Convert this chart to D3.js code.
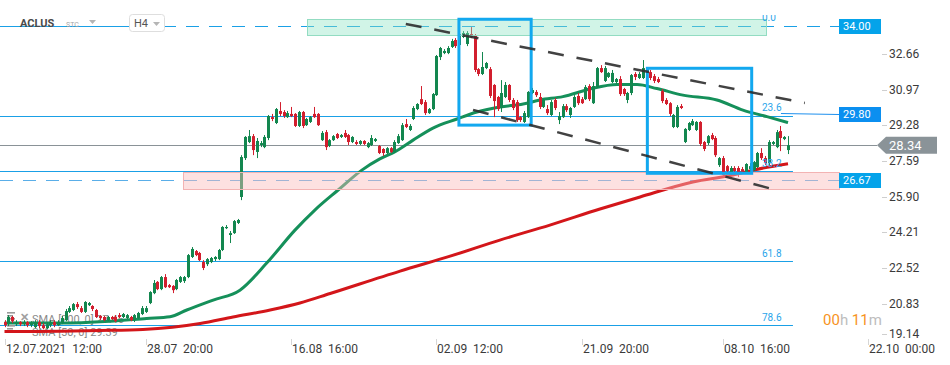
<!DOCTYPE html>
<html><head><meta charset="utf-8">
<script src="https://cdn.jsdelivr.net/npm/d3@7"></script>
<style>
html,body{margin:0;padding:0;background:#fff;}
svg{display:block;}
text{font-family:Roboto,"Noto Sans",sans-serif;}
</style></head><body>
<svg id="c" width="950" height="365"></svg>
<script>
// ---------- DATA ----------
const symbol = "ACLUS", market = "STC", interval = "H4";
const open=[19.97,19.87,20.21,19.87,19.97,19.87,19.97,19.82,19.73,19.97,
19.82,19.68,19.82,19.97,19.82,19.92,20.06,20.45,20.54,20.82,
20.63,20.45,20.77,20.73,20.54,20.26,20.21,20.06,20.21,20.21,
20.30,20.21,20.16,20.21,20.06,20.16,20.35,20.45,20.87,21.34,
21.87,21.53,22.10,21.72,21.68,21.53,21.87,21.91,22.10,23.05,
23.33,23.24,22.81,22.71,22.81,22.95,22.95,23.38,24.42,24.09,
24.18,24.66,25.89,27.73,28.49,28.77,28.02,28.35,28.25,28.68,
29.67,29.39,29.96,29.91,29.67,29.82,29.82,29.25,29.91,29.29,
29.44,29.82,29.82,28.58,28.96,28.30,28.58,28.87,28.73,28.92,
28.82,28.49,28.49,28.40,28.54,28.25,28.35,28.54,28.30,28.16,
27.97,28.20,28.02,28.44,28.58,29.34,29.06,29.58,30.05,30.52,
30.38,29.86,30.05,30.71,32.51,32.70,32.70,32.99,33.32,33.08,
33.46,33.13,33.60,33.51,31.94,31.71,31.99,31.94,31.19,30.62,
30.10,30.62,31.19,30.48,30.38,29.67,29.44,29.67,30.81,30.86,
30.62,30.15,30.05,29.77,30.48,29.53,29.67,30.19,29.77,30.15,
30.67,30.52,30.52,31.14,30.33,31.09,31.99,31.38,31.57,31.33,
31.33,31.47,31.00,30.48,30.81,31.71,31.52,31.52,31.80,31.80,
31.61,31.47,30.90,30.48,30.33,29.20,29.20,30.19,28.49,29.06,
29.29,29.06,29.44,28.49,28.44,28.82,28.68,27.40,27.73,27.35,
27.07,27.26,27.26,27.21,27.07,27.21,27.16,27.31,27.97,27.73,
27.49,28.40,28.25,29.01,28.63,28.11];
const high=[20.06,20.30,20.26,20.06,20.01,20.06,20.01,20.01,20.06,20.06,
19.92,19.97,20.06,20.06,20.06,20.26,20.59,20.73,20.87,20.92,
20.73,20.96,20.92,20.77,20.59,20.30,20.26,20.26,20.26,20.30,
20.40,20.40,20.35,20.26,20.35,20.45,20.73,20.73,21.43,21.96,
21.91,22.15,22.24,21.77,21.72,22.01,22.15,22.15,23.19,23.52,
23.38,23.29,22.90,23.00,23.05,23.09,23.43,24.51,24.56,24.28,
24.80,24.85,27.87,28.77,29.06,28.87,28.68,28.54,28.82,29.77,
29.82,30.10,30.38,30.00,29.96,30.15,29.86,29.96,29.96,29.63,
29.72,30.15,29.86,29.01,29.06,28.63,28.82,28.92,28.87,29.06,
28.87,28.77,28.58,28.58,28.58,28.49,28.82,28.68,28.35,28.20,
28.25,28.25,28.58,28.87,29.39,29.58,29.34,30.19,30.33,31.14,
30.48,30.10,30.81,32.61,32.99,32.89,33.03,33.37,33.41,34.03,
33.74,33.74,33.93,33.60,31.99,32.75,32.28,32.04,31.23,30.67,
31.42,31.33,31.23,30.57,30.48,29.72,29.96,30.90,31.05,30.95,
30.81,30.52,30.24,30.48,30.57,29.91,30.29,30.29,30.15,30.71,
30.81,30.62,31.19,31.23,31.33,32.04,32.13,32.09,31.80,31.90,
31.52,31.61,31.05,30.86,31.71,31.80,31.80,32.37,32.04,31.90,
31.71,31.57,31.00,30.57,30.38,29.82,30.24,30.29,29.15,29.44,
29.58,29.48,29.48,28.54,28.82,28.92,28.77,27.78,27.83,27.40,
27.35,27.35,27.35,27.31,27.49,27.49,27.59,28.02,28.20,27.83,
28.58,28.54,29.06,29.25,28.77,28.77];
const low=[19.73,19.78,19.92,19.78,19.78,19.78,19.73,19.73,19.68,19.68,
19.63,19.63,19.73,19.73,19.78,19.87,20.01,20.40,20.49,20.59,
20.40,20.40,20.73,20.49,20.16,20.06,20.01,20.01,20.06,19.97,
20.16,20.16,20.11,20.01,19.97,20.11,20.30,20.40,20.82,21.29,
21.48,21.48,21.58,21.58,21.34,21.48,21.82,21.82,22.05,23.00,
23.09,22.86,22.43,22.62,22.76,22.86,22.90,23.33,24.37,23.71,
24.14,24.61,25.74,27.64,28.44,27.87,27.73,28.25,28.20,28.58,
29.48,29.34,29.72,29.63,29.63,29.67,29.20,29.20,29.15,29.25,
29.39,29.63,29.25,28.54,28.11,28.25,28.54,28.63,28.68,28.68,
28.35,28.44,28.35,28.35,28.35,28.20,28.30,28.49,27.92,27.83,
27.92,27.97,27.97,28.40,28.54,29.15,29.01,29.53,30.00,30.24,
29.77,29.82,30.00,30.67,32.37,32.65,32.65,32.94,32.94,32.75,
33.41,33.03,33.41,31.80,31.61,31.66,31.94,30.57,29.67,29.96,
29.91,30.57,30.38,30.00,29.44,29.44,29.39,29.63,30.76,30.62,
30.05,30.10,29.77,29.72,30.00,29.34,29.63,29.91,29.63,30.10,
30.24,30.29,30.48,30.43,30.29,31.05,31.76,31.33,31.52,31.28,
31.23,30.67,30.67,30.33,30.71,31.42,31.47,31.47,31.71,31.42,
31.28,31.28,30.33,30.24,29.72,29.15,29.15,30.05,28.44,29.01,
29.25,29.01,28.30,28.06,28.35,28.58,27.78,27.31,26.83,27.02,
26.97,27.02,26.83,27.02,27.02,27.12,27.12,27.26,27.64,27.40,
27.40,28.35,28.20,28.06,28.58,27.92];
const close=[19.82,20.21,20.01,19.97,19.87,19.97,19.82,19.92,19.97,19.78,
19.68,19.87,19.97,19.82,19.97,20.16,20.49,20.63,20.82,20.68,
20.45,20.92,20.87,20.59,20.21,20.16,20.06,20.21,20.11,20.01,
20.21,20.35,20.30,20.06,20.30,20.40,20.63,20.63,21.39,21.82,
21.53,22.10,21.62,21.62,21.48,21.96,22.10,22.10,23.14,23.43,
23.14,22.90,22.53,22.95,23.00,23.05,23.38,24.47,24.47,24.18,
24.75,24.80,27.78,28.73,28.77,28.11,28.54,28.44,28.73,29.72,
29.58,30.05,29.82,29.72,29.86,29.72,29.25,29.91,29.25,29.58,
29.67,29.67,29.29,28.92,28.25,28.58,28.77,28.68,28.82,28.73,
28.49,28.73,28.40,28.54,28.40,28.44,28.68,28.63,27.97,27.97,
28.20,28.02,28.49,28.77,29.29,29.20,29.25,30.10,30.29,30.29,
29.86,30.05,30.76,32.56,32.94,32.80,32.94,33.27,33.03,33.60,
33.65,33.65,33.46,31.90,31.71,32.04,32.23,30.67,30.43,30.05,
30.81,31.19,30.48,30.10,29.53,29.53,29.86,30.86,30.95,30.71,
30.15,30.48,29.86,30.38,30.10,29.72,30.19,30.00,30.10,30.62,
30.33,30.33,31.09,30.52,31.14,31.99,31.80,31.99,31.76,31.76,
31.47,30.76,30.76,30.81,31.66,31.57,31.71,31.99,31.94,31.52,
31.38,31.33,30.43,30.29,29.82,29.77,30.15,30.10,29.11,29.39,
29.48,29.44,28.40,28.16,28.77,28.63,27.87,27.73,26.93,27.12,
27.26,27.12,27.02,27.12,27.45,27.35,27.54,27.97,27.73,27.49,
28.49,28.49,28.96,28.68,28.73,28.34];

// moving averages, sampled along the curves (candle index, price)
const sma50Idx=[0,14.5,27.6,37.2,43.3,47.7,54.6,61.6,68.6,76.0,81.2,87.3,93.5,98.2,102.2,106.9,112.1,118.4,123.6,129.6,135.7,140.1,146.1,153.2,160.3,165.5,170.7,177.5,186.4,193.2,199.5,205];
const sma50=[19.92,19.92,20.01,20.14,20.22,20.54,21.01,21.48,22.76,24.32,25.27,26.22,27.16,27.69,28.03,28.58,29.15,29.58,29.91,30.15,30.29,30.48,30.64,31.00,31.21,31.21,31.02,30.71,30.48,30.00,29.69,29.41];
const sma200Idx=[0,14.5,25.0,36.2,51.2,59.8,69.5,77.3,85.2,103.5,116.6,129.6,142.7,155.8,166.3,180.1,190.6,195.8,205];
const sma200=[19.52,19.54,19.57,19.62,19.90,20.21,20.54,20.87,21.32,22.38,23.09,23.85,24.56,25.32,25.89,26.60,26.93,27.16,27.46];
const legendRows=["SMA [200, 0] 27.46","SMA [50, 0] 29.39"];

// axes
const xTickIdx=[0,37,75,113,151,188,226];
const xTickLabels=["12.07.2021  12:00","28.07  20:00","16.08  16:00","02.09  12:00","21.09  20:00","08.10  16:00","22.10  00:00"];
const yTicks=[32.66,30.97,29.28,27.59,25.90,24.21,22.52,20.83,19.14];

// drawings
const fibTop=34.00, fibBottom=15.97;
const fibLevels=[0,23.6,38.2,61.8,78.6];
const fibStartIdx=0, fibEndIdx=206.3, fibLabelIdx=198.2;
const priceLevels=[{v:34.00,t:"34.00",kind:"dash"},{v:29.80,t:"29.80",kind:"solid"},{v:26.67,t:"26.67",kind:"dash2"}];
const lastPrice=28.34;
const zones=[{i0:79.1,i1:199.2,p0:33.56,p1:34.31,kind:"green"},{i0:46.7,i1:null,p0:26.27,p1:27.07,kind:"pink"}];
const boxes=[{i0:118.9,i1:137.8,p0:29.29,p1:34.30},{i0:168.2,i1:195.5,p0:27.01,p1:31.98}];
const trends=[{i0:105.0,p0:34.08,i1:209.4,p1:30.34},{i0:122.6,p0:30.01,i1:202.9,p1:26.17}];
const countdown=[["00","o"],["h","g"],[" 11","o"],["m","g"]];

// ---------- DRAW ----------
const svg=d3.select("#c");
const x=d3.scaleLinear().domain([0,205]).range([4.5,788]);
const y=d3.scaleLinear().domain([19.14,34.00]).range([339.6,25.6]);
const LABEL_X=839, TAG_X=877;
const G="#13874f", R="#d21f2e", BLUE="#1aa0e6";

// fib lines
const fibVal=l=>fibTop-(fibTop-fibBottom)*l/100;
svg.append("g").selectAll("line").data(fibLevels.filter(l=>l>0)).join("line")
  .attr("x1",x(fibStartIdx)-5).attr("x2",x(fibEndIdx))
  .attr("y1",l=>Math.round(y(fibVal(l)))+0.5).attr("y2",l=>Math.round(y(fibVal(l)))+0.5)
  .attr("stroke",BLUE).attr("stroke-width",1);

// price level lines
const pl=svg.append("g");
priceLevels.forEach(p=>{
  const yy=Math.round(y(p.v))+0.5;
  if(p.kind==="dash"){
    pl.append("line").attr("x1",0).attr("x2",163).attr("y1",yy).attr("y2",yy).attr("stroke",BLUE);
    pl.append("line").attr("x1",163).attr("x2",LABEL_X).attr("y1",yy).attr("y2",yy)
      .attr("stroke",BLUE).attr("stroke-dasharray","13,10");
  } else if(p.kind==="dash2"){
    pl.append("line").attr("x1",0).attr("x2",LABEL_X).attr("y1",yy).attr("y2",yy)
      .attr("stroke","#5aaee8").attr("stroke-dasharray","13,10");
  } else {
    pl.append("line").attr("x1",x(fibEndIdx)-12).attr("x2",LABEL_X).attr("y1",yy-1).attr("y2",yy)
      .attr("stroke","#1e90ee");
  }
});
svg.append("line").attr("x1",0).attr("x2",TAG_X).attr("y1",Math.round(y(lastPrice))+0.5).attr("y2",Math.round(y(lastPrice))+0.5)
  .attr("stroke","#8a9297").attr("stroke-width",1);

// legend (under chart)
const lg=svg.append("g");
legendRows.forEach((t,k)=>{
  const yb=323+k*13;
  lg.append("text").attr("x",32).attr("y",yb).attr("font-size",11).attr("fill","#8a8a8a").text(t);
  for(let j=0;j<3;j++) lg.append("rect").attr("x",7).attr("y",yb-11+j*3).attr("width",j===1?6:8).attr("height",1.6).attr("fill","#9a9a9a");
  if(k===0) lg.append("text").attr("x",20).attr("y",yb-2).attr("font-size",11).attr("font-weight","bold").attr("fill","#a0a0a0").text("✕");
});

// moving averages
const lineGen=d3.line().x(d=>x(d[0])).y(d=>y(d[1])).curve(d3.curveMonotoneX);
svg.append("path").datum(sma200Idx.map((v,i)=>[v,sma200[i]])).attr("d",lineGen)
  .attr("fill","none").attr("stroke","#d3161a").attr("stroke-width",3);
svg.append("path").datum(sma50Idx.map((v,i)=>[v,sma50[i]])).attr("d",lineGen)
  .attr("fill","none").attr("stroke","#15905a").attr("stroke-width",3);

// candles
const data=open.map((o,i)=>({i,o,h:high[i],l:low[i],c:close[i]}));
const cg=svg.append("g");
const cx=d=>Math.round(x(d.i));
cg.selectAll("line").data(data).join("line")
  .attr("x1",d=>cx(d)+0.5).attr("x2",d=>cx(d)+0.5)
  .attr("y1",d=>y(d.h)).attr("y2",d=>y(d.l))
  .attr("stroke",d=>d.c>=d.o?G:R).attr("stroke-width",1);
cg.selectAll("rect").data(data).join("rect")
  .attr("x",d=>cx(d)-1).attr("width",3)
  .attr("y",d=>y(Math.max(d.o,d.c))).attr("height",d=>Math.max(1.2,Math.abs(y(d.o)-y(d.c))))
  .attr("fill",d=>d.c>=d.o?G:R);

// zones
zones.forEach(z=>{
  const x0=x(z.i0), x1=z.i1==null?LABEL_X:x(z.i1);
  svg.append("rect").attr("x",Math.round(x0)+0.5).attr("y",Math.round(y(z.p1))+0.5)
    .attr("width",Math.round(x1-x0)).attr("height",Math.round(y(z.p0)-y(z.p1)))
    .attr("fill",z.kind==="green"?"rgba(140,228,196,0.4)":"rgba(250,188,188,0.45)")
    .attr("stroke",z.kind==="green"?"#93dcc2":"#f3b3b3").attr("stroke-width",1);
});

// boxes
svg.append("g").selectAll("rect").data(boxes).join("rect")
  .attr("x",b=>x(b.i0)).attr("y",b=>y(b.p1)).attr("width",b=>x(b.i1)-x(b.i0)).attr("height",b=>y(b.p0)-y(b.p1))
  .attr("fill","none").attr("stroke","#12a8ef").attr("stroke-width",3);

// trend lines
svg.append("g").selectAll("line").data(trends).join("line")
  .attr("x1",t=>x(t.i0)).attr("y1",t=>y(t.p0)).attr("x2",t=>x(t.i1)).attr("y2",t=>y(t.p1))
  .attr("stroke","#2e2e2e").attr("stroke-width",2.5).attr("stroke-dasharray","16,13").attr("opacity",0.9);

// fib labels
svg.append("clipPath").attr("id","top").append("rect").attr("x",0).attr("y",15).attr("width",950).attr("height",350);
svg.append("g").attr("clip-path","url(#top)").selectAll("text").data(fibLevels).join("text")
  .attr("x",x(fibLabelIdx)).attr("y",l=>y(fibVal(l))-4.5)
  .attr("font-size",10).attr("fill","#2aa4ea").text(l=>l.toFixed(1));

// y axis
const ya=svg.append("g");
yTicks.forEach(v=>{
  const yy=Math.round(y(v))+ (v<20?-6:0);
  ya.append("line").attr("x1",882).attr("x2",887).attr("y1",yy+0.5).attr("y2",yy+0.5).attr("stroke","#cfcfcf");
  ya.append("text").attr("x",889).attr("y",yy).attr("dy","0.36em").attr("font-size",12).attr("fill","#3a3a3a").text(v.toFixed(2));
});

// price labels
priceLevels.forEach(p=>{
  const yy=y(p.v);
  svg.append("rect").attr("x",LABEL_X).attr("y",Math.round(yy-7)).attr("width",42).attr("height",15)
    .attr("fill",p.kind==="solid"?"#0b8ff0":"#04a3ea");
  svg.append("text").attr("x",LABEL_X+4).attr("y",yy).attr("dy","0.36em").attr("font-size",11).attr("fill","#fff").text(p.t);
});
{
  const yy=y(lastPrice);
  svg.append("path").attr("d",`M${TAG_X},${yy}L${TAG_X+9},${yy-8.5}H937V${yy+8.5}H${TAG_X+9}Z`).attr("fill","#8a9398");
  svg.append("text").attr("x",889).attr("y",yy).attr("dy","0.37em").attr("font-size",13).attr("fill","#fff").text(lastPrice.toFixed(2));
}

// x axis
const xa=svg.append("g");
xTickIdx.forEach((v,k)=>{
  const xx=Math.round(x(v));
  xa.append("line").attr("x1",xx+0.5).attr("x2",xx+0.5).attr("y1",339).attr("y2",345).attr("stroke","#d6d6d6");
  xa.append("text").attr("x",xx+1).attr("y",353).attr("font-size",12).attr("fill","#3a3a3a")
    .style("white-space","pre").attr("xml:space","preserve").text(xTickLabels[k]);
});

// countdown
const cd=svg.append("text").attr("x",823).attr("y",325).attr("font-size",15).style("white-space","pre");
countdown.forEach(([t,c])=>cd.append("tspan").attr("fill",c==="o"?"#f7931e":"#bdbdbd").text(t));

// header
const hd=svg.append("g");
hd.append("text").attr("x",20).attr("y",27).attr("font-size",11).attr("font-weight","bold").attr("fill","#4a4a4a").text(symbol);
hd.append("text").attr("x",66).attr("y",27).attr("font-size",7).attr("fill","#a5a5a5").text(market);
hd.append("path").attr("d","M89,20H96L92.5,24Z").attr("fill","#b5b5b5");
hd.append("rect").attr("x",129.5).attr("y",14.5).attr("width",35).attr("height",17).attr("rx",3).attr("fill","#fff").attr("stroke","#dedede");
hd.append("text").attr("x",134).attr("y",27).attr("font-size",11).attr("fill","#555").text(interval);
hd.append("path").attr("d","M153,22H160L156.5,26Z").attr("fill","#b5b5b5");
</script>
</body></html>
